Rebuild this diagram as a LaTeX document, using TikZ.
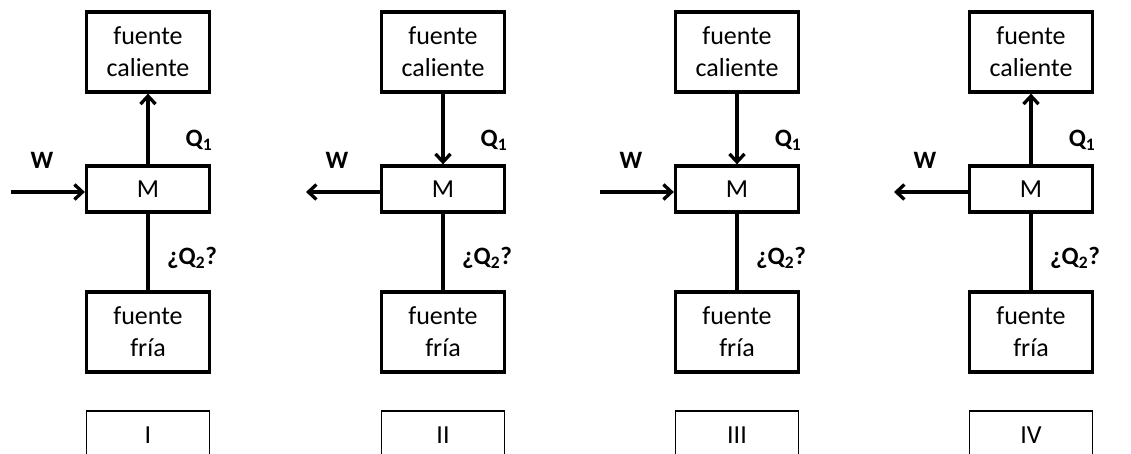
\documentclass[tikz,border=0pt]{standalone}
\usepackage{fontspec}
\setmainfont{Carlito}
\usetikzlibrary{arrows.meta}
\tikzset{
  src/.style={draw, line width=3.3pt, minimum width=123pt, minimum height=80pt,
              inner sep=0pt, align=center, font=\fontsize{26}{32}\selectfont},
  eng/.style={draw, line width=3.3pt, minimum width=123pt, minimum height=46pt,
              inner sep=0pt, font=\fontsize{26}{32}\selectfont},
  tag/.style={draw, line width=1.6pt, minimum width=123pt, minimum height=48pt,
              inner sep=0pt, font=\fontsize{26}{32}\selectfont},
  lbl/.style={font=\fontsize{25}{30}\selectfont\bfseries, inner sep=0pt},
  flow/.style={line width=3.3pt, -{Straight Barb[length=8pt,width=15pt,line width=3.3pt]}},
  link/.style={line width=3.3pt}
}
\begin{document}
\begin{tikzpicture}[x=1pt,y=-1pt]
\useasboundingbox (0,0) rectangle (1131,454);
\clip (0,0) rectangle (1131,454);
% id / centre x / numeral / heat flow up? / work flows in?
\foreach \i/\cx/\num/\qup/\win in {1/148/I/1/1, 2/443/II/0/0, 3/737/III/0/1, 4/1031/IV/1/0}{
  \node[src] (hot\i)  at (\cx,52)  {fuente\\caliente};
  \node[eng] (m\i)    at (\cx,189) {M};
  \node[src] (cold\i) at (\cx,332) {fuente\\fría};
  \node[tag] (tag\i)  at (\cx,435) {\num};
  \coordinate (wend\i) at (\cx-137,192);
  \node[lbl] (q1\i) at (\cx+51,140) {Q\textsubscript{1}};
  \node[lbl] (q2\i) at (\cx+44,258) {¿Q\textsubscript{2}?};
  \node[lbl] (w\i)  at (\cx-106,160) {W};
  \ifnum\qup=1
    \draw[flow] (m\i.north) -- (hot\i.south);
  \else
    \draw[flow] (hot\i.south) -- (m\i.north);
  \fi
  \ifnum\win=1
    \draw[flow] (wend\i) -- (wend\i -| m\i.west);
  \else
    \draw[flow] (wend\i -| m\i.west) -- (wend\i);
  \fi
  \draw[link] (m\i.south) -- (cold\i.north);
}
\end{tikzpicture}
\end{document}
